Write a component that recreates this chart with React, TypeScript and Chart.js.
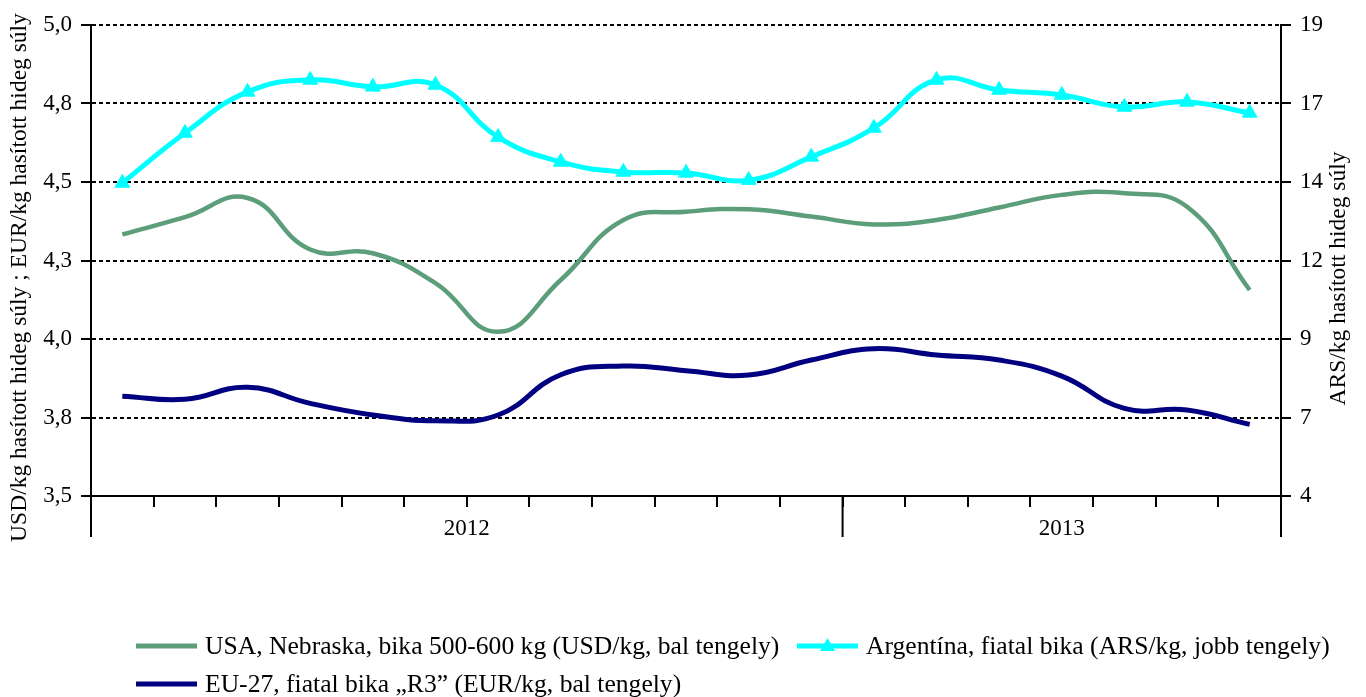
import React, { useEffect, useRef } from 'react';
import { Chart, registerables } from 'chart.js';

Chart.register(...registerables);

// ---- data ----
const months = [
  '2012-01', '2012-02', '2012-03', '2012-04', '2012-05', '2012-06',
  '2012-07', '2012-08', '2012-09', '2012-10', '2012-11', '2012-12',
  '2013-01', '2013-02', '2013-03', '2013-04', '2013-05', '2013-06', '2013-07',
];
const years = ['2012', '2013'];
const monthsPerYear = [12, 7];

const usaValues = [4.333, 4.388, 4.449, 4.285, 4.273, 4.178, 4.023, 4.188, 4.379, 4.405, 4.413, 4.39, 4.365, 4.379, 4.419, 4.459, 4.464, 4.421, 4.156];
const argentinaValues = [13.97, 15.56, 16.87, 17.25, 17.03, 17.09, 15.43, 14.64, 14.32, 14.29, 14.06, 14.8, 15.72, 17.25, 16.93, 16.77, 16.39, 16.55, 16.2];
const euValues = [3.818, 3.808, 3.846, 3.795, 3.758, 3.74, 3.758, 3.886, 3.914, 3.899, 3.885, 3.933, 3.969, 3.949, 3.933, 3.882, 3.779, 3.774, 3.728];

const seriesNames = [
  'USA, Nebraska, bika 500-600 kg (USD/kg, bal tengely)',
  'Argentína, fiatal bika (ARS/kg, jobb tengely)',
  'EU-27, fiatal bika \u201eR3\u201d (EUR/kg, bal tengely)',
];
const leftTitle = 'USD/kg hasított hideg súly ; EUR/kg hasított hideg súly';
const rightTitle = 'ARS/kg hasított hideg súly';

const leftMin = 3.5;
const leftMax = 5.0;
const leftStep = 0.25;
const rightMin = 4;
const rightMax = 19;
const rightStep = 2.5;

// ---- styles ----
const USA_COLOR = '#5C9E7A';
const ARG_COLOR = '#00FFFF';
const EU_COLOR = '#000080';
const FONT = '"Liberation Serif", "Times New Roman", serif';

const decorPlugin = {
  id: 'decor',
  afterDraw(chart: any) {
    const { ctx, chartArea, scales } = chart;
    const x = scales.x;
    ctx.save();
    ctx.strokeStyle = '#000';
    ctx.lineWidth = 2;
    const bounds: number[] = [x.left];
    let idx = 0;
    monthsPerYear.forEach((n) => {
      idx += n;
      const p = idx >= months.length
        ? x.right
        : (x.getPixelForTick(idx - 1) + x.getPixelForTick(idx)) / 2;
      bounds.push(p);
    });
    bounds.forEach((b) => {
      ctx.beginPath();
      ctx.moveTo(b, chartArea.bottom);
      ctx.lineTo(b, chartArea.bottom + 41);
      ctx.stroke();
    });
    ctx.font = '23px ' + FONT;
    ctx.fillStyle = '#000';
    ctx.textAlign = 'center';
    ctx.textBaseline = 'middle';
    years.forEach((yr, i) => {
      ctx.fillText(yr, (bounds[i] + bounds[i + 1]) / 2, chartArea.bottom + 33);
    });
    ctx.font = '23.5px ' + FONT;
    const cy = (chartArea.top + chartArea.bottom) / 2 + 17;
    ctx.save();
    ctx.translate(20, cy);
    ctx.rotate(-Math.PI / 2);
    ctx.fillText(leftTitle, 0, 0);
    ctx.restore();
    ctx.save();
    ctx.translate(chart.width - 27, cy + 1);
    ctx.rotate(-Math.PI / 2);
    ctx.fillText(rightTitle, 0, 0);
    ctx.restore();
    ctx.restore();
  },
};

function LegendLine({ color, marker }: { color: string; marker: boolean }) {
  return (
    <svg width={61} height={18} style={{ display: 'block', marginRight: 8 }}>
      <line x1={0} y1={9} x2={61} y2={9} stroke={color} strokeWidth={5} />
      {marker ? <polygon points="30.5,1 23,14 38,14" fill={color} /> : null}
    </svg>
  );
}

export default function App() {
  const canvasRef = useRef<HTMLCanvasElement | null>(null);

  useEffect(() => {
    const canvas = canvasRef.current;
    if (!canvas) return;
    const chart = new Chart(canvas, {
      type: 'line',
      data: {
        labels: months,
        datasets: [
          {
            label: seriesNames[0],
            data: usaValues,
            borderColor: USA_COLOR,
            backgroundColor: USA_COLOR,
            borderWidth: 4.5,
            pointRadius: 0,
            tension: 0.45,
            yAxisID: 'y',
          },
          {
            label: seriesNames[1],
            data: argentinaValues,
            borderColor: ARG_COLOR,
            backgroundColor: ARG_COLOR,
            borderWidth: 5,
            pointStyle: 'triangle',
            pointRadius: 8.5,
            pointBorderWidth: 1,
            pointBorderColor: ARG_COLOR,
            pointBackgroundColor: ARG_COLOR,
            tension: 0.45,
            yAxisID: 'y1',
          },
          {
            label: seriesNames[2],
            data: euValues,
            borderColor: EU_COLOR,
            backgroundColor: EU_COLOR,
            borderWidth: 5,
            pointRadius: 0,
            tension: 0.45,
            yAxisID: 'y',
          },
        ],
      },
      options: {
        responsive: false,
        animation: false,
        layout: { padding: { top: 25, left: 0, right: 0, bottom: 0 } },
        plugins: {
          legend: { display: false },
          tooltip: { enabled: false },
        },
        scales: {
          x: {
            type: 'category',
            offset: true,
            afterFit: (s: any) => { s.height = 201; },
            grid: {
              offset: true,
              drawOnChartArea: false,
              drawTicks: true,
              tickLength: 11,
              color: '#000',
              tickColor: '#000',
              lineWidth: 2,
              tickWidth: 2,
            },
            border: { display: true, color: '#000', width: 2 },
            ticks: { display: false, autoSkip: false },
          },
          y: {
            type: 'linear',
            position: 'left',
            min: leftMin,
            max: leftMax,
            afterFit: (s: any) => { s.width = 91; },
            afterBuildTicks: (s: any) => {
              const t = [];
              for (let v = leftMin; v <= leftMax + 1e-9; v += leftStep) t.push({ value: Math.round(v * 100) / 100 });
              s.ticks = t;
            },
            grid: {
              color: '#000',
              lineWidth: 2,
              tickColor: '#000',
              tickWidth: 2,
              tickLength: 10,
              tickBorderDash: [],
            },
            border: { display: true, color: '#000', width: 2, dash: [4, 3] },
            ticks: {
              padding: 9,
              color: '#000',
              font: { family: FONT, size: 23 },
              callback: (v: any) => Number(v).toFixed(1).replace('.', ','),
            },
          },
          y1: {
            type: 'linear',
            position: 'right',
            min: rightMin,
            max: rightMax,
            afterFit: (s: any) => { s.width = 85; },
            afterBuildTicks: (s: any) => {
              const t = [];
              for (let v = rightMin; v <= rightMax + 1e-9; v += rightStep) t.push({ value: v });
              s.ticks = t;
            },
            grid: {
              drawOnChartArea: false,
              color: '#000',
              lineWidth: 2,
              tickColor: '#000',
              tickWidth: 2,
              tickLength: 10,
            },
            border: { display: true, color: '#000', width: 2 },
            ticks: {
              padding: 9,
              color: '#000',
              font: { family: FONT, size: 23 },
              callback: (v: any) => String(Math.round(Number(v))),
            },
          },
        },
      },
      plugins: [decorPlugin],
    } as any);
    return () => chart.destroy();
  }, []);

  const legendLayout = [
    { i: 0, color: USA_COLOR, marker: false, left: 136, cy: 645.5 },
    { i: 1, color: ARG_COLOR, marker: true, left: 797, cy: 645.5 },
    { i: 2, color: EU_COLOR, marker: false, left: 136, cy: 683.5 },
  ];

  return (
    <div style={{ position: 'absolute', left: 0, top: 0, width: 1366, height: 697, background: '#fff', overflow: 'hidden' }}>
      <canvas ref={canvasRef} width={1366} height={697} style={{ display: 'block', width: 1366, height: 697 }} />
      {legendLayout.map((it) => (
        <div
          key={it.i}
          style={{
            position: 'absolute',
            left: it.left,
            top: it.cy - 15,
            height: 30,
            display: 'flex',
            alignItems: 'center',
            fontFamily: FONT,
            fontSize: 25.6,
            lineHeight: '30px',
            color: '#000',
            whiteSpace: 'nowrap',
          }}
        >
          <LegendLine color={it.color} marker={it.marker} />
          <span>{seriesNames[it.i]}</span>
        </div>
      ))}
    </div>
  );
}
